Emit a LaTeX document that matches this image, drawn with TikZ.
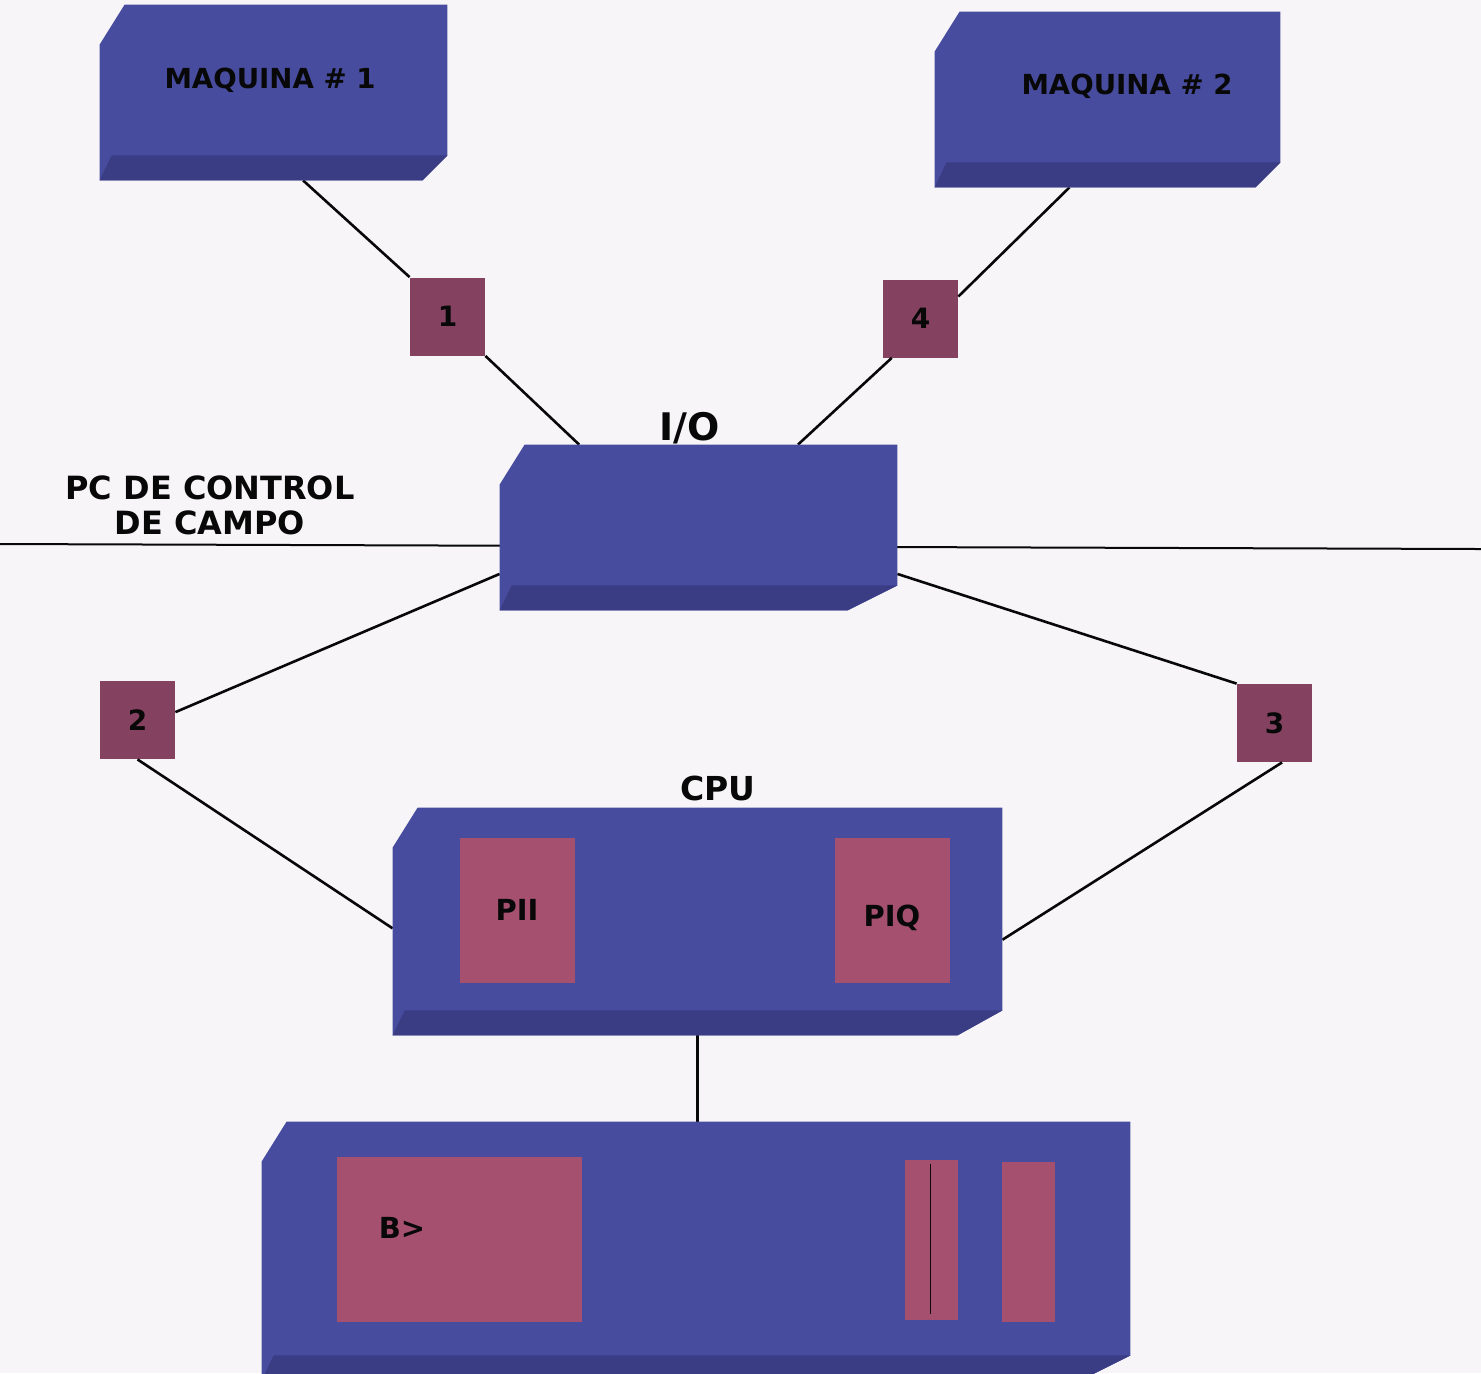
\documentclass[tikz,border=0pt]{standalone}
\usepackage{fontspec}
\setmainfont{DejaVu Sans}
\usetikzlibrary{calc}
\definecolor{pagebg}{RGB}{247,245,248}
\definecolor{boxblue}{RGB}{72,76,158}
\definecolor{bandblue}{RGB}{58,60,132}
\definecolor{sqmaroon}{RGB}{132,66,96}
\definecolor{inmaroon}{RGB}{164,80,110}
\definecolor{ink}{RGB}{8,8,8}
\newcommand\boxshape[3]{% name, bottom-right cut dx, band height
  \fill[boxblue] ($(#1.north west)+(0,40)$) -- ($(#1.north west)+(25,0)$) -- (#1.north east)
     -- ($(#1.south east)+(0,-#3)$) -- ($(#1.south east)+(-#2,0)$) -- (#1.south west) -- cycle;
  \fill[bandblue] (#1.south west) -- ($(#1.south west)+(12,-#3)$) -- ($(#1.south east)+(0,-#3)$)
     -- ($(#1.south east)+(-#2,0)$) -- cycle;
}
\begin{document}
\begin{tikzpicture}[x=0.5pt,y=-0.5pt,
  box/.style 2 args={draw=none,fill=none,inner sep=0pt,minimum width=#1*0.5pt,minimum height=#2*0.5pt},
  sq/.style={fill=sqmaroon,inner sep=0pt,minimum width=37.5pt,minimum height=39pt,text=ink,font=\bfseries\fontsize{14}{16}\selectfont},
  inner/.style 2 args={fill=inmaroon,inner sep=0pt,minimum width=#1*0.5pt,minimum height=#2*0.5pt},
  lbl/.style={inner sep=0pt,text=ink,font=\bfseries\fontsize{14.5}{17}\selectfont},
  conn/.style={draw=ink,line width=1.3pt}]
\useasboundingbox (0,0) rectangle (1481,1373);
\clip (0,0) rectangle (1481,1373);
\fill[pagebg] (0,0) rectangle (1481,1373);

% block positions
\node[box={347}{175}] (m1) at (273.5,92.5) {};
\node[box={345}{175}] (m2) at (1107.5,99.5) {};
\node[box={397}{165}] (io) at (698.5,527.5) {};
\node[box={609}{227}] (cpu) at (697.5,921.5) {};
\node[box={868}{258}] (base) at (696,1251) {};

% horizontal divider
\coordinate (hl) at (0,544);
\coordinate (hr) at (1481,549);
\draw[conn,line width=1pt] (hl) -- (hr);

% small I/O squares
\node[sq] (s1) at (447.5,316.5) {1};
\node[sq] (s4) at (920.5,318.5) {4};
\node[sq] (s2) at (137.5,720) {2};
\node[sq] (s3) at (1274.5,723) {3};

% connectors
\draw[conn] ($(m1.south west)!0.585!(m1.south east)$) -- (s1.north west);
\draw[conn] (s1.south east) -- ($(io.north west)!0.2!(io.north east)$);
\draw[conn] ($(m2.south west)!0.39!(m2.south east)$) -- ($(s4.north east)!0.22!(s4.south east)$);
\draw[conn] ($(s4.south west)!0.12!(s4.south east)$) -- ($(io.north west)!0.75!(io.north east)$);
\draw[conn] ($(io.north west)!0.78!(io.south west)$) -- ($(s2.north east)!0.4!(s2.south east)$);
\draw[conn] ($(io.north east)!0.78!(io.south east)$) -- (s3.north west);
\draw[conn] (s2.south) -- ($(cpu.north west)!0.53!(cpu.south west)$);
\draw[conn] ($(s3.south west)!0.6!(s3.south east)$) -- ($(cpu.north east)!0.58!(cpu.south east)$);
\draw[conn] (cpu.south) -- ($(cpu.south |- base.north)+(0,12)$);

% block bodies
\boxshape{m1}{25}{25}
\boxshape{m2}{25}{25}
\boxshape{io}{50}{25}
\boxshape{cpu}{45}{25}
\boxshape{base}{50}{25}

% inner elements
\node[inner={115}{145}] (pii) at (517.5,910.5) {};
\node[inner={115}{145}] (piq) at (892.5,910.5) {};
\node[inner={245}{165}] (bmod) at (459.5,1239.5) {};
\node[inner={53}{160}] (bar1) at (931.5,1240) {};
\node[inner={53}{160}] (bar2) at (1028.5,1242) {};
\draw[conn,line width=0.9pt] ($(bar1.north)+(-1,4)$) -- ($(bar1.south)+(-1,-6)$);

% labels
\node[lbl,font=\bfseries\fontsize{13.8}{16}\selectfont] (t1) at (270,80) {MAQUINA \# 1};
\node[lbl,font=\bfseries\fontsize{13.8}{16}\selectfont] (t2) at (1127,86) {MAQUINA \# 2};
\node[lbl,font=\bfseries\fontsize{19}{20}\selectfont] (tio) at (690,428) {I/O};
\node[lbl,font=\bfseries\fontsize{16}{17.5}\selectfont,align=center] (tpc) at (210,505) {PC DE CONTROL\\ DE CAMPO};
\node[lbl,font=\bfseries\fontsize{16.5}{18}\selectfont] (tcpu) at (718,788) {CPU};
\node[lbl] (tpii) at (517,910) {PII};
\node[lbl] (tpiq) at (892,918) {PIQ};
\node[lbl] (tb) at (402,1228) {B>};
\end{tikzpicture}
\end{document}
